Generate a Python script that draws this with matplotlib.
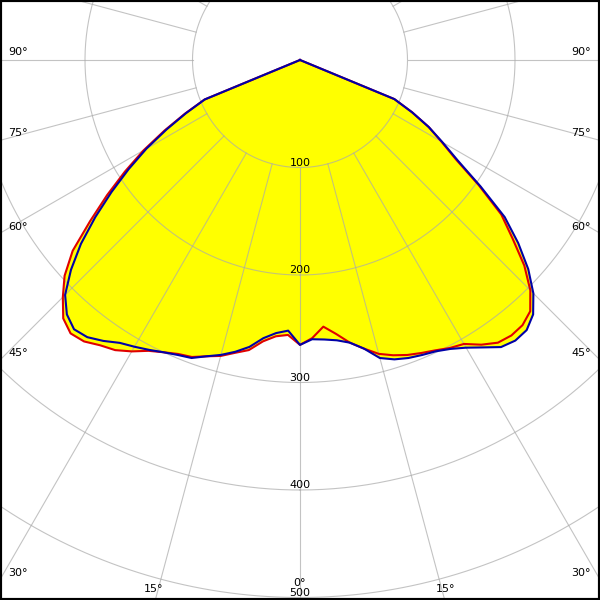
# Polar luminous intensity diagram (cd), two C-planes
import matplotlib
matplotlib.use("Agg")
import matplotlib.pyplot as plt
import numpy as np
from matplotlib.patches import Rectangle

# gamma angles in degrees, negative = left half of the plane
angles = [-90, -80, -70, -67.5, -65, -62.5, -60, -57.5, -55, -52.5, -50,
          -47.5, -45, -42.5, -40, -37.5, -35, -32.5, -30, -27.5, -25, -22.5,
          -20, -17.5, -15, -12.5, -10, -7.5, -5, -2.5, 0, 2.5, 5, 7.5, 10,
          12.5, 15, 17.5, 20, 22.5, 25, 27.5, 30, 32.5, 35, 37.5, 40, 42.5,
          45, 47.5, 50, 52.5, 55, 57.5, 60, 62.5, 65, 67.5, 70, 80, 90]

# red curve
c0_c180 = [0, 0, 0, 96, 118, 142, 168, 193, 219, 246, 276, 297, 312, 326,
           332, 330, 324, 320, 313, 305, 300, 296, 294, 289, 285, 279, 274,
           264, 258, 256, 265, 259, 249, 257, 267, 275, 283, 288, 292, 295,
           298, 302, 305, 314, 321, 323, 322, 317, 303, 283, 258, 236, 203,
           172, 152, 135, 115, 95, 0, 0, 0]

# blue curve
c90_c270 = [0, 0, 0, 96, 117, 140, 165, 189, 214, 240, 266, 289, 309, 321,
            327, 325, 319, 312, 308, 304, 300, 297, 295, 289, 284, 278, 271,
            261, 255, 252, 265, 260, 261, 263, 267, 275, 287, 292, 295, 297,
            299, 303, 309, 317, 326, 329, 328, 321, 307, 288, 265, 240, 205,
            174, 153, 135, 115, 95, 0, 0, 0]

ring_values = [100, 200, 300, 400, 500, 600]
ring_labels = ["100", "200", "300", "400", "500"]

# angle labels at the picture border: (text, x px, y px)
angle_labels = [
    ("90°", 18, 52), ("75°", 18, 133), ("60°", 18, 227), ("45°", 18, 353),
    ("30°", 18, 573), ("15°", 154, 589), ("0°", 300, 583),
    ("15°", 446, 589), ("30°", 581, 573), ("45°", 581, 353),
    ("60°", 581, 227), ("75°", 581, 133), ("90°", 581, 52),
]

R_MAX = 600
PX_PER_CD = 1.075
W = H = 600

fig = plt.figure(figsize=(6, 6), dpi=100)
fig.patch.set_facecolor("white")

# polar axes bigger than the figure, centre at (300, 60) px
rad = R_MAX * PX_PER_CD
ax = fig.add_axes([(300 - rad) / W, (H - 60 - rad) / H, 2 * rad / W, 2 * rad / H],
                  projection="polar")
ax.set_theta_zero_location("S")
ax.set_ylim(0, R_MAX)
ax.set_xticks([])
ax.set_yticks([])
ax.grid(False)
ax.spines["polar"].set_visible(False)
ax.set_facecolor("white")

theta = np.deg2rad(angles)

ax.fill(theta, c0_c180, color="#ffff00", lw=0, zorder=1)
ax.fill(theta, c90_c270, color="#ffff00", lw=0, zorder=1)

# grid: circles and radial spokes starting at 100
circ = np.linspace(0, 2 * np.pi, 721)
for r in ring_values:
    ax.plot(circ, np.full_like(circ, r), color="#aaaaaa", alpha=0.7, lw=0.8, zorder=2)
for a in range(0, 360, 15):
    t = np.deg2rad(a)
    ax.plot([t, t], [100, R_MAX], color="#aaaaaa", alpha=0.7, lw=0.8, zorder=2)

ax.plot(theta, c0_c180, color="#e00000", lw=1.5, zorder=3)
ax.plot(theta, c90_c270, color="#0000a8", lw=1.5, zorder=4)

for r, lab in zip(ring_values, ring_labels):
    ax.annotate(lab, (0, r), xytext=(0, 1.2), textcoords="offset points",
                ha="center", va="baseline", fontsize=8, zorder=5)

for lab, x, y in angle_labels:
    fig.text(x / W, 1 - y / H, lab, ha="center", va="center", fontsize=8)

fig.add_artist(Rectangle((0, 0), 1, 1, transform=fig.transFigure, fill=False,
                         ec="black", lw=3, zorder=10))

fig.savefig("out.png", dpi=100)
